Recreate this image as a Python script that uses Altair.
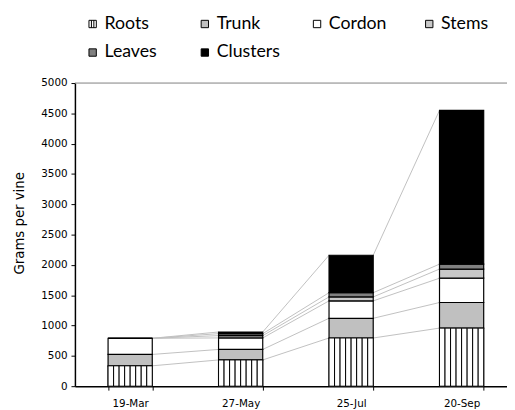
import altair as alt
import pandas as pd

dates = ["19-Mar", "27-May", "25-Jul", "20-Sep"]
parts = ["Roots", "Trunk", "Cordon", "Stems", "Leaves", "Clusters"]
roots = [336, 433, 795, 958]
trunk = [188, 173, 325, 422]
cordon = [266, 190, 287, 401]
stems = [0, 38, 65, 151]
leaves = [0, 32, 70, 81]
clusters = [0, 28, 618, 2537]
fills = ["#ffffff", "#c0c0c0", "#ffffff", "#c8c8c8", "#808080", "#000000"]
outline = ["#000000"] * len(parts)
shapes = ["M-1,-1H1V1H-1Z M-0.33,-1V1 M0.33,-1V1", "square", "square", "square", "square", "square"]
y_ticks = list(range(0, 5001, 500))

series = [roots, trunk, cordon, stems, leaves, clusters]
rows, tops = [], []
for i, d in enumerate(dates):
    base = 0
    t = []
    for p, s in zip(parts, series):
        rows.append({"date": d, "part": p, "y0": base, "y1": base + s[i]})
        base += s[i]
        t.append(base)
    tops.append(t)
bars_df = pd.DataFrame(rows)

links = []
for i in range(len(dates) - 1):
    for j, p in enumerate(parts):
        links.append({"from": dates[i], "to": dates[i + 1], "part": p,
                      "ya": tops[i][j], "yb": tops[i + 1][j]})
links_df = pd.DataFrame(links)

stripes_df = pd.DataFrame([{"date": d, "k": k, "y0": 0, "y1": roots[i]}
                           for i, d in enumerate(dates) for k in range(8)])
top_df = pd.DataFrame({"y": [5000]})
# legend carrier points, hidden behind the first roots bar
legend_df = pd.DataFrame({"part": parts, "date": dates[0], "y": [150] * len(parts)})

xscale = alt.Scale(domain=dates, range=[0, 449], paddingInner=0.6, paddingOuter=0.3)
yscale = alt.Scale(domain=[0, 5000], nice=False)
fillscale = alt.Scale(domain=parts, range=fills)
xaxis = alt.Axis(title=None, labelAngle=0, tickBand="extent", domainColor="black",
                 domainWidth=1.5, tickColor="black", tickSize=4, labelPadding=9,
                 labelFont="DejaVu Sans", labelFontSize=10.5, labelColor="black")
yaxis = alt.Axis(title="Grams per vine", values=y_ticks, format="d", grid=False,
                 domainColor="black", domainWidth=1.5, tickColor="black", tickSize=4,
                 labelPadding=4, labelFont="DejaVu Sans", labelFontSize=10.5,
                 labelColor="black", titleFont="DejaVu Sans", titleFontSize=13.5,
                 titleFontWeight="normal", titleColor="black", titleAngle=270,
                 titleAlign="center", titleBaseline="middle", titleX=-56, titleY=142)

leg = alt.Legend(orient="none", legendX=9, legendY=-69, columns=4, direction="horizontal",
                 title=None, labelFont="Lato", labelFontSize=18, labelColor="black",
                 symbolSize=56, symbolStrokeColor="black", symbolStrokeWidth=1,
                 symbolOpacity=1, labelOffset=3, columnPadding=28, rowPadding=11,
                 gridAlign="all")

legend_pts = alt.Chart(legend_df).mark_point(
    filled=True, size=56, strokeWidth=1, opacity=1
).encode(
    x=alt.X("date:N", scale=xscale, axis=xaxis, sort=None),
    y=alt.Y("y:Q", scale=yscale, axis=yaxis),
    fill=alt.Fill("part:N", scale=fillscale, legend=leg),
    stroke=alt.Stroke("part:N", scale=alt.Scale(domain=parts, range=outline), legend=leg),
    shape=alt.Shape("part:N", scale=alt.Scale(domain=parts, range=shapes), legend=leg),
)

lines = alt.Chart(links_df).mark_rule(color="#c0c0c0", strokeWidth=1).encode(
    x=alt.X("from:N", scale=xscale, axis=xaxis, sort=None, bandPosition=1),
    x2=alt.X2("to", bandPosition=0),
    y=alt.Y("ya:Q", scale=yscale, axis=yaxis),
    y2="yb",
)

bars = alt.Chart(bars_df).mark_bar(stroke="black", strokeWidth=1.2).encode(
    x=alt.X("date:N", scale=xscale, axis=xaxis, sort=None),
    y=alt.Y("y1:Q", scale=yscale, axis=yaxis),
    y2="y0",
    fill=alt.Fill("part:N", scale=fillscale, legend=leg),
)

stripes = alt.Chart(stripes_df).mark_bar(fill="white", stroke="black", strokeWidth=1).encode(
    x=alt.X("date:N", scale=xscale, axis=xaxis, sort=None),
    xOffset=alt.XOffset("k:N", scale=alt.Scale(paddingInner=0, paddingOuter=0)),
    y=alt.Y("y1:Q", scale=yscale, axis=yaxis),
    y2="y0",
)

top_rule = alt.Chart(top_df).mark_rule(color="#808080", strokeWidth=1).encode(
    x=alt.value(0), x2=alt.value(460),
    y=alt.Y("y:Q", scale=yscale, axis=yaxis),
)

chart = alt.layer(legend_pts, lines, bars, stripes, top_rule).properties(
    width=439, height=308,
    autosize=alt.AutoSizeParams(type="none"),
    padding={"left": 68, "top": 73, "right": 0, "bottom": 25},
    background="white",
).configure_view(stroke=None)

chart.save("out.html", embed_options={"renderer": "svg", "actions": False})
